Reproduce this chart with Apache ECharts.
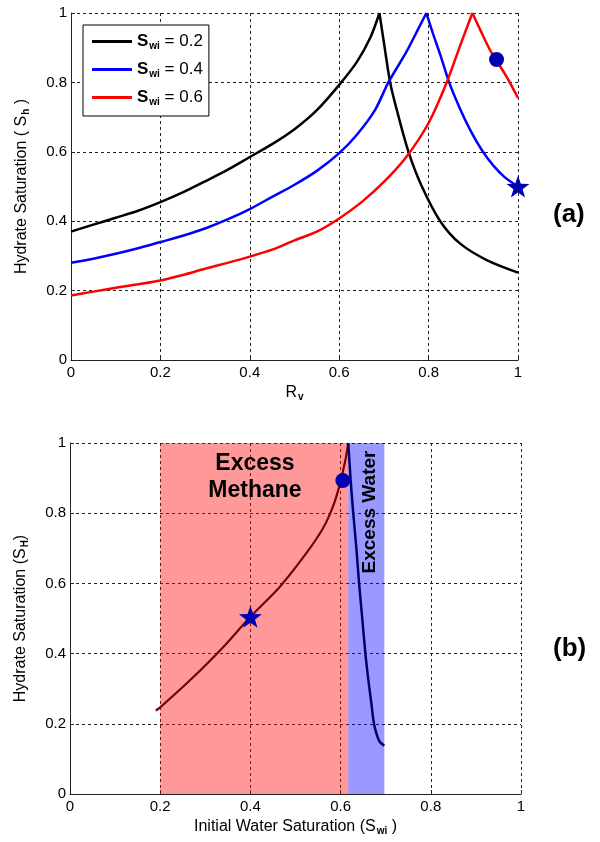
<!DOCTYPE html>
<html>
<head>
<meta charset="utf-8">
<script src="https://cdn.jsdelivr.net/npm/echarts@6/dist/echarts.min.js"></script>
<style>
  html, body { margin: 0; padding: 0; background: #fff; }
  #chart { width: 600px; height: 842px; }
</style>
</head>
<body>
<div id="chart"></div>
<script>
// ---- data ----
// (a) hydrate saturation vs R_v, rising branch and falling branch of each curve
var black02UpX = [0, 0.05, 0.1, 0.15, 0.2, 0.25, 0.3, 0.35, 0.4, 0.45, 0.5, 0.55, 0.6, 0.64, 0.67, 0.69];
var black02UpY = [0.37, 0.39, 0.41, 0.43, 0.455, 0.483, 0.515, 0.548, 0.585, 0.622, 0.665, 0.72, 0.793, 0.86, 0.93, 1.0];
var black02DownX = [0.69, 0.70, 0.714, 0.729, 0.755, 0.785, 0.826, 0.87, 0.93, 1.0];
var black02DownY = [1.0, 0.915, 0.8, 0.72, 0.6, 0.5, 0.4, 0.336, 0.288, 0.252];

var blue04UpX = [0, 0.05, 0.1, 0.15, 0.2, 0.25, 0.3, 0.35, 0.4, 0.45, 0.5, 0.55, 0.6, 0.64, 0.68, 0.71, 0.75, 0.78, 0.795];
var blue04UpY = [0.28, 0.292, 0.306, 0.322, 0.34, 0.358, 0.379, 0.405, 0.435, 0.47, 0.505, 0.545, 0.596, 0.65, 0.72, 0.80, 0.887, 0.962, 1.0];
var blue04DownX = [0.795, 0.81, 0.826, 0.846, 0.87, 0.895, 0.92, 0.945, 0.97, 1.0];
var blue04DownY = [1.0, 0.94, 0.88, 0.8, 0.725, 0.658, 0.603, 0.56, 0.527, 0.5];

var red06UpX = [0, 0.05, 0.1, 0.15, 0.2, 0.25, 0.3, 0.35, 0.4, 0.45, 0.5, 0.55, 0.6, 0.65, 0.7, 0.75, 0.8, 0.84, 0.87, 0.898];
var red06UpY = [0.186, 0.197, 0.208, 0.218, 0.229, 0.245, 0.263, 0.28, 0.298, 0.318, 0.345, 0.37, 0.408, 0.455, 0.513, 0.585, 0.683, 0.798, 0.904, 1.0];
var red06DownX = [0.898, 0.919, 0.938, 0.952, 0.975, 1.0];
var red06DownY = [1.0, 0.942, 0.892, 0.863, 0.815, 0.755];

var topCircle = [0.952, 0.866];
var topStar = [1.0, 0.5];

// (b) hydrate saturation vs initial water saturation
var methaneX = [0.19, 0.2, 0.266, 0.34, 0.4, 0.465, 0.524, 0.561, 0.583, 0.598, 0.607, 0.612, 0.617];
var methaneY = [0.238, 0.247, 0.324, 0.419, 0.505, 0.59, 0.686, 0.757, 0.819, 0.88, 0.93, 0.96, 1.0];
var waterX = [0.617, 0.622, 0.628, 0.635, 0.641, 0.648, 0.655, 0.662, 0.668, 0.674, 0.68, 0.687, 0.697];
var waterY = [1.0, 0.9, 0.8, 0.7, 0.6, 0.5, 0.4, 0.32, 0.26, 0.2, 0.17, 0.148, 0.138];

var methaneBand = [0.2, 0.617];
var waterBand = [0.617, 0.697];

var bottomStar = [0.4, 0.505];
var bottomCircle = [0.605, 0.893];

var seriesNames = ['Swi = 0.2', 'Swi = 0.4', 'Swi = 0.6'];

function zip(xs, ys) {
    var out = [];
    for (var i = 0; i < xs.length; i++) out.push([xs[i], ys[i]]);
    return out;
}

var FONT = 'Liberation Sans';
var markColor = '#0000b0';
var starPath = 'path://M0,-10 L2.35,-3.24 L9.51,-3.09 L3.8,1.24 L5.88,8.09 L0,4 L-5.88,8.09 L-3.8,1.24 L-9.51,-3.09 L-2.35,-3.24 Z';

var nameRich = {
    a: { fontFamily: FONT, fontSize: 16, color: '#000' },
    b: { fontFamily: FONT, fontSize: 10, fontWeight: 'bold', color: '#000', padding: [9, 0, 0, 1] }
};

function makeX(idx, name) {
    return {
        type: 'value', gridIndex: idx, min: 0, max: 1, interval: 0.2,
        name: name, nameLocation: 'middle', nameGap: 23,
        nameTextStyle: { rich: nameRich },
        axisLine: { lineStyle: { color: '#222', width: 1 } },
        axisTick: { inside: true, length: 4, lineStyle: { color: '#222' } },
        axisLabel: { color: '#000', fontFamily: FONT, fontSize: 15, margin: 5 },
        splitLine: { show: true, lineStyle: { color: '#222', type: [3, 3], width: 1 } }
    };
}
function makeY(idx, name) {
    return {
        type: 'value', gridIndex: idx, min: 0, max: 1, interval: 0.2,
        name: name, nameLocation: 'middle', nameGap: 40,
        nameTextStyle: { rich: nameRich },
        axisLine: { show: true, lineStyle: { color: '#222', width: 1 } },
        axisTick: { show: true, inside: true, length: 4, lineStyle: { color: '#222' } },
        axisLabel: { color: '#000', fontFamily: FONT, fontSize: 15, margin: 4 },
        splitLine: { show: true, lineStyle: { color: '#222', type: [3, 3], width: 1 } }
    };
}

function curve(name, xs, ys, color) {
    return {
        name: name, type: 'line', xAxisIndex: 0, yAxisIndex: 0, data: zip(xs, ys),
        symbol: 'none', smooth: 0.3, lineStyle: { color: color, width: 2.5 }, itemStyle: { color: color }, z: 3
    };
}

var myChart = echarts.init(document.getElementById('chart'));

var option = {
    animation: false,
    backgroundColor: '#fff',
    grid: [
        { left: 71, top: 13, width: 447, height: 347 },
        { left: 70, top: 443, width: 451, height: 351 }
    ],
    legend: {
        data: seriesNames,
        orient: 'vertical',
        left: 83, top: 25,
        backgroundColor: '#fff',
        borderColor: '#000', borderWidth: 1,
        padding: [8, 6, 9, 9],
        itemGap: 10,
        itemWidth: 40, itemHeight: 3,
        icon: 'rect',
        formatter: function (name) {
            return '{s|S}{sub|wi}{t| = ' + name.split('=')[1].trim() + '}';
        },
        textStyle: {
            rich: {
                s: { fontFamily: FONT, fontSize: 17, fontWeight: 'bold', color: '#000' },
                sub: { fontFamily: FONT, fontSize: 10, fontWeight: 'bold', color: '#000', padding: [9, 0, 0, 1] },
                t: { fontFamily: FONT, fontSize: 17, color: '#000' }
            }
        }
    },
    xAxis: [
        makeX(0, '{a|R}{b|v}'),
        makeX(1, '{a|Initial Water Saturation (S}{b|wi}{a| )}')
    ],
    yAxis: [
        makeY(0, '{a|Hydrate Saturation ( S}{b|h}{a| )}'),
        makeY(1, '{a|Hydrate Saturation (S}{b|H}{a|)}')
    ],
    series: [
        curve(seriesNames[0], black02UpX, black02UpY, '#000'),
        curve(seriesNames[0], black02DownX, black02DownY, '#000'),
        curve(seriesNames[1], blue04UpX, blue04UpY, '#0000ff'),
        curve(seriesNames[1], blue04DownX, blue04DownY, '#0000ff'),
        curve(seriesNames[2], red06UpX, red06UpY, '#ff0000'),
        curve(seriesNames[2], red06DownX, red06DownY, '#ff0000'),
        { type: 'scatter', xAxisIndex: 0, yAxisIndex: 0, data: [topCircle], symbol: 'circle', symbolSize: 15,
          itemStyle: { color: markColor, opacity: 1 }, clip: false, z: 5 },
        { type: 'scatter', xAxisIndex: 0, yAxisIndex: 0, data: [topStar], symbol: starPath, symbolSize: [23, 22],
          itemStyle: { color: markColor, opacity: 1 }, clip: false, z: 5 },

        // shaded regions in (b)
        { type: 'line', xAxisIndex: 1, yAxisIndex: 1, data: [], z: 1,
          markArea: {
              silent: true,
              data: [
                  [{ xAxis: methaneBand[0], yAxis: 0, itemStyle: { color: 'rgba(255,0,0,0.4)' } }, { xAxis: methaneBand[1], yAxis: 1 }],
                  [{ xAxis: waterBand[0], yAxis: 0, itemStyle: { color: 'rgba(0,0,255,0.4)' } }, { xAxis: waterBand[1], yAxis: 1 }]
              ]
          } },
        { type: 'line', xAxisIndex: 1, yAxisIndex: 1, data: zip(methaneX, methaneY),
          symbol: 'none', smooth: 0.3, lineStyle: { color: '#7a0000', width: 2.2 }, z: 3 },
        { type: 'line', xAxisIndex: 1, yAxisIndex: 1, data: zip(waterX, waterY),
          symbol: 'none', smooth: 0.3, lineStyle: { color: '#000070', width: 2.5 }, z: 3 },
        { type: 'scatter', xAxisIndex: 1, yAxisIndex: 1, data: [bottomCircle], symbol: 'circle', symbolSize: 15,
          itemStyle: { color: markColor, opacity: 1 }, clip: false, z: 5 },
        { type: 'scatter', xAxisIndex: 1, yAxisIndex: 1, data: [bottomStar], symbol: starPath, symbolSize: [23, 22],
          itemStyle: { color: markColor, opacity: 1 }, clip: false, z: 5 }
    ],
    graphic: [
        { type: 'text', left: 553, top: 202, style: { text: '(a)', fontFamily: FONT, fontSize: 26, fontWeight: 'bold', fill: '#000' } },
        { type: 'text', left: 553, top: 636, style: { text: '(b)', fontFamily: FONT, fontSize: 26, fontWeight: 'bold', fill: '#000' } },
        { type: 'text', x: 255, y: 450, z: 10,
          style: { text: 'Excess\nMethane', fontFamily: FONT, fontSize: 23, fontWeight: 'bold', lineHeight: 27,
                   fill: '#000', textAlign: 'center', textVerticalAlign: 'top' } },
        { type: 'text', x: 370, y: 512, rotation: Math.PI / 2, z: 10,
          style: { text: 'Excess Water', fontFamily: FONT, fontSize: 19, fontWeight: 'bold',
                   fill: '#000', textAlign: 'center', textVerticalAlign: 'middle' } }
    ]
};

myChart.setOption(option);
window.onresize = myChart.resize;
</script>
</body>
</html>
